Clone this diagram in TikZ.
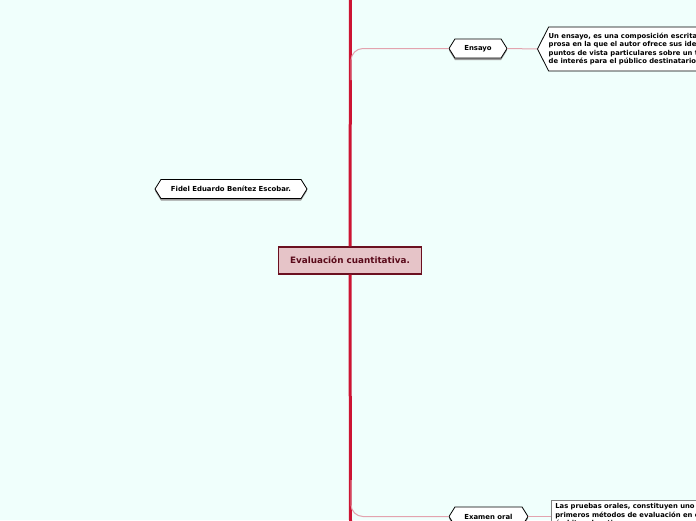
\documentclass[tikz,border=0pt]{standalone}
\usepackage{fontspec}
\setmainfont{DejaVu Sans}
\usetikzlibrary{shapes.symbols,shadows}
\definecolor{bgc}{HTML}{F0FFFC}
\definecolor{trunk}{HTML}{CC1433}
\definecolor{branch}{HTML}{E3A3AE}
\definecolor{cfill}{HTML}{E6C4C8}
\definecolor{cdraw}{HTML}{6B1020}
\definecolor{ctext}{HTML}{5A0A1A}
\tikzset{
  hexnode/.style={signal, signal to=east and west, signal pointer angle=116,
    draw=black, line width=0.8pt, fill=white, inner xsep=6pt, inner ysep=0pt,
    minimum height=19pt, font=\fontsize{6.9}{8}\selectfont\bfseries,
    drop shadow={shadow xshift=0pt, shadow yshift=-2pt, fill=gray!80, opacity=1}},
  notebox/.style={signal, signal to=west, signal pointer angle=126, draw=black,
    line width=0.8pt, fill=white, align=left, inner xsep=0pt, inner ysep=0pt,
    minimum height=44pt, font=\fontsize{6.8}{8.6}\selectfont\bfseries},
  rectbox/.style={rectangle, draw=gray, line width=0.7pt, fill=white, align=left,
    inner xsep=4pt, inner ysep=3pt, font=\fontsize{6.8}{8.6}\selectfont\bfseries},
  centernode/.style={rectangle, draw=cdraw, line width=1.2pt, fill=cfill,
    text=ctext, minimum width=143pt, minimum height=27pt,
    font=\fontsize{8.8}{10}\selectfont\bfseries},
  trunkline/.style={draw=trunk, line width=3pt},
  branchline/.style={draw=branch, line width=1pt, rounded corners=12pt},
}
\begin{document}
\begin{tikzpicture}[x=1pt,y=-1pt]
\useasboundingbox (0,0) rectangle (696,520);
\fill[bgc] (0,0) rectangle (696,520);
\clip (0,0) rectangle (696,520);
\coordinate (ttop) at (350.5,-2);
\coordinate (tbot) at (350.5,522);
\coordinate (b1) at (351,80);
\coordinate (b2) at (351,480);
\node[centernode] (c) at (350,260.5) {Evaluación cuantitativa.};
\draw[trunkline] (c.north) -- (ttop);
\draw[trunkline] (c.south) -- (tbot);
\node[hexnode, minimum width=58pt] (ens) at (478,48.5) {Ensayo};
\node[hexnode, minimum width=79pt] (exa) at (488.5,516.5) {Examen oral};
\node[hexnode, minimum width=152pt] (fid) at (231,189) {Fidel Eduardo Benítez Escobar.};
\node[notebox, anchor=west] (ensn) at (537,49) {Un ensayo, es una composición escrita en\\prosa en la que el autor ofrece sus ideas y\\puntos de vista particulares sobre un tema\\de interés para el público destinatario.};
\node[rectbox, anchor=north west] (exan) at (551,500) {Las pruebas orales, constituyen uno de los\\primeros métodos de evaluación en el\\ámbito educativo.};
\draw[branchline] (b1) |- (ens.west);
\draw[branchline] (b2) |- (exa.west);
\draw[branchline] (ens.east) -- (ensn.west);
\draw[branchline] (exa.east) -- (exa.east -| exan.west);
\end{tikzpicture}
\end{document}
